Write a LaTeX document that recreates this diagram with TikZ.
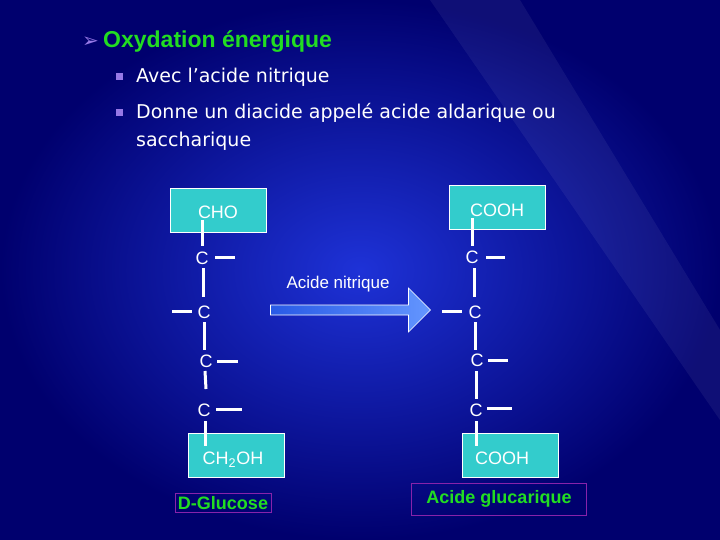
\documentclass[tikz,border=0pt]{standalone}
\usepackage{fontspec}
\setmainfont{Liberation Sans}
\newfontfamily\comic{DejaVu Sans}
\usetikzlibrary{shapes.arrows}
\definecolor{cy}{HTML}{33CCCC}
\definecolor{gr}{HTML}{22DD22}
\definecolor{pu}{HTML}{8822AA}
\definecolor{bul}{RGB}{150,120,230}
\definecolor{bgin}{RGB}{30,50,215}
\definecolor{bgout}{RGB}{0,0,110}
\definecolor{arlc}{RGB}{40,90,230}
\definecolor{arrc}{RGB}{100,150,255}
\tikzset{
 box/.style={fill=cy,draw=white,line width=0.8pt,minimum width=96pt,minimum height=44pt},
 ct/.style={text=white,font=\fontsize{18}{18}\selectfont,inner sep=1pt},
 bond/.style={white,line width=3pt},
 lab/.style={draw=pu,line width=0.8pt,text=gr,font=\bfseries\fontsize{18}{18}\selectfont,inner sep=3pt},
}
\begin{document}
\begin{tikzpicture}[x=1pt,y=-1pt]
\useasboundingbox (0,0) rectangle (720,540);
\shade[inner color=bgin, outer color=bgout] (0,0) rectangle (720,540);
\fill[white,opacity=0.06] (430,0) -- (520,0) -- (720,330) -- (720,420) -- cycle;
% title
\node[anchor=west,text=bul,font=\comic\fontsize{20}{20}\selectfont,inner sep=0] (ar) at (82,42) {➢};
\node[anchor=west,text=gr,font=\bfseries\fontsize{23}{23}\selectfont,inner sep=0] (t) at (103,42) {Oxydation énergique};
\fill[bul] (116,73) rectangle (123,80);
\fill[bul] (116,109) rectangle (123,116);
\node[anchor=west,text=white,font=\comic\fontsize{19}{19}\selectfont,inner sep=0] (b1) at (136,77) {Avec l’acide nitrique};
\node[anchor=west,text=white,font=\comic\fontsize{19}{19}\selectfont,inner sep=0] (b2) at (136,113) {Donne un diacide appelé acide aldarique ou};
\node[anchor=west,text=white,font=\comic\fontsize{19}{19}\selectfont,inner sep=0] (b3) at (136,141) {saccharique};
% boxes
\node[box] (cho) at (218,210) {};
\node[box] (cooh1) at (497,207) {};
\node[box] (ch2) at (236,455) {};
\node[box] (cooh2) at (510,455) {};
% left chain
\draw[bond] (202,220) -- (202,246);
\node[ct] (l1) at (202,258) {C};
\draw[bond] (215,257) -- (235,257);
\draw[bond] (203,268) -- (203,297);
\node[ct] (l2) at (204,312) {C};
\draw[bond] (172,311) -- (192,311);
\draw[bond] (204,322) -- (204,350);
\node[ct] (l3) at (206,361) {C};
\draw[bond] (217,361) -- (238,361);
\draw[bond] (205,371) -- (206,389);
\node[ct] (l4) at (204,410) {C};
\draw[bond] (216,409) -- (242,409);
\draw[bond] (205,421) -- (205,446);
% right chain
\draw[bond] (472,218) -- (472,246);
\node[ct] (r1) at (472,257) {C};
\draw[bond] (486,257) -- (505,257);
\draw[bond] (474,268) -- (474,297);
\node[ct] (r2) at (475,312) {C};
\draw[bond] (442,311) -- (462,311);
\draw[bond] (475,322) -- (475,350);
\node[ct] (r3) at (477,360) {C};
\draw[bond] (488,360) -- (508,360);
\draw[bond] (476,371) -- (476,399);
\node[ct] (r4) at (476,410) {C};
\draw[bond] (487,408) -- (512,408);
\draw[bond] (476,421) -- (476,446);
% box texts
\node[ct] at (218,212) {CHO};
\node[ct] at (497,210) {COOH};
\node[ct] at (233,460) {CH\textsubscript{2}OH};
\node[ct] at (502,458) {COOH};
% arrow
\node[single arrow,draw=white,line width=0.6pt,left color=arlc,right color=arrc,minimum height=160pt,minimum width=44pt,single arrow head extend=10pt,inner sep=0] (arw) at (348,310) {\phantom{x}};
\node[text=white,font=\fontsize{17}{17}\selectfont,inner sep=0] (an) at (338,284) {Acide nitrique};
% labels
\node[lab] (dg) at (223,503) {D-Glucose};
\node[lab,minimum width=175pt,minimum height=32pt] (ag) at (499,499) {Acide glucarique};
\end{tikzpicture}
\end{document}
